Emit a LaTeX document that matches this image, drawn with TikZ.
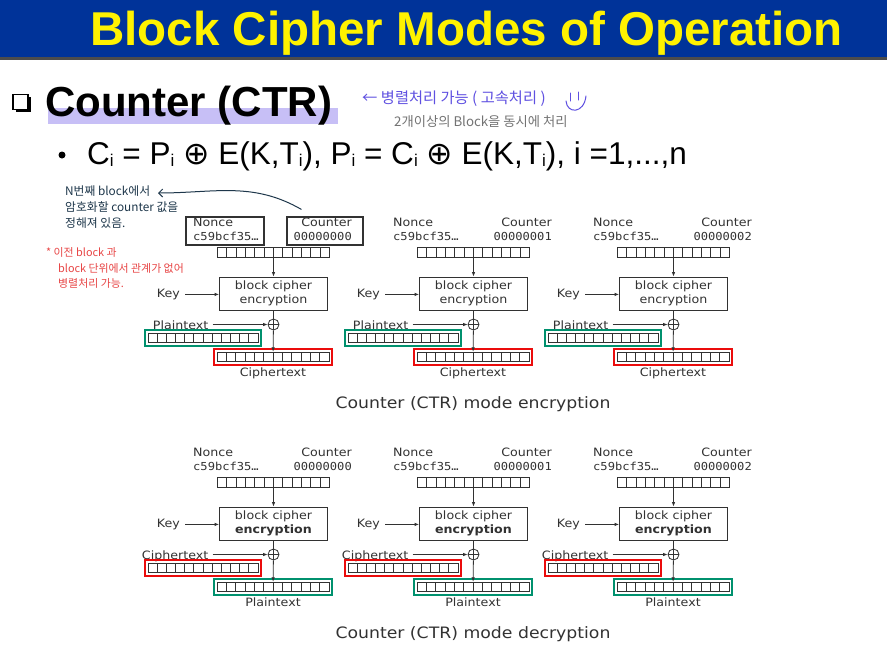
\documentclass[tikz,border=0pt]{standalone}
\usepackage{fontspec}
\setmainfont{Liberation Sans}
\newfontfamily\dvsans[FakeStretch=1.1]{DejaVu Sans}
\newfontfamily\dvmono[FakeStretch=1.1]{DejaVu Sans Mono}
\newfontfamily\dvplain{DejaVu Sans}
\newfontfamily\krfont{Noto Sans CJK KR}
\usetikzlibrary{arrows.meta,calc,fit,shadows}

\definecolor{barblue}{RGB}{0,51,153}
\definecolor{ink}{RGB}{50,50,50}
\definecolor{hlred}{RGB}{235,12,12}
\definecolor{hlgreen}{RGB}{0,145,110}
\definecolor{penpurple}{RGB}{95,80,225}
\definecolor{pengray}{RGB}{115,115,115}
\definecolor{pennavy}{RGB}{30,55,75}
\definecolor{penred}{RGB}{232,70,70}
\definecolor{marker}{RGB}{190,180,245}

\tikzset{
  lbl/.style={font=\dvsans\fontsize{11.5}{14}\selectfont, text=ink, inner sep=0pt},
  reg/.style={draw=ink, line width=0.8pt, minimum width=112pt, minimum height=9.5pt,
    inner sep=0pt,
    path picture={\foreach \k in {1,...,11}{
      \draw[ink, line width=0.7pt]
        ($(path picture bounding box.south west)!\k/12!(path picture bounding box.south east)$) --
        ($(path picture bounding box.north west)!\k/12!(path picture bounding box.north east)$);}}},
  cipher/.style={draw=ink, line width=0.8pt, minimum width=108pt, minimum height=33pt,
    align=center, inner sep=0pt, font=\dvsans\fontsize{11.5}{14}\selectfont, text=ink},
  xor/.style={circle, draw=ink, line width=0.8pt, minimum size=11pt, inner sep=0pt,
    path picture={\draw[ink, line width=0.8pt]
      (path picture bounding box.north) -- (path picture bounding box.south)
      (path picture bounding box.west) -- (path picture bounding box.east);}},
  flow/.style={draw=ink, line width=0.8pt, -{Latex[length=4.5pt,width=3.5pt]}},
  wire/.style={draw=ink, line width=0.8pt},
  hl/.style={rectangle, line width=2.2pt, inner xsep=2.3pt, inner ysep=2.6pt},
  framebox/.style={rectangle, draw=ink, line width=1.1pt, inner sep=0pt},
  caption/.style={font=\dvsans\fontsize{15.7}{18}\selectfont, text=ink, inner sep=0pt},
  pen/.style={font=\krfont\fontsize{11.8}{16}\selectfont, inner sep=0pt, align=left},
}

\begin{document}
\begin{tikzpicture}[x=1pt,y=-1pt]
\useasboundingbox (0,0) rectangle (887,656);
\fill[white] (0,0) rectangle (887,656);

% title bar
\fill[barblue] (0,0) rectangle (887,57);
\fill[black!70] (0,57) rectangle (887,60);
\node[anchor=base, inner sep=0pt, text=yellow,
      font=\bfseries\fontsize{47.5}{50}\selectfont] (title) at (466.5,45)
  {Block Cipher Modes of Operation};

% heading with marker stroke
\fill[marker, opacity=0.85] (48,108) rectangle (338,124);
\node[draw=black, line width=1.3pt, fill=white, minimum size=15pt, inner sep=0pt,
      drop shadow={shadow xshift=2.5pt, shadow yshift=-2.5pt, opacity=1, fill=black}]
  (chk) at (20.5,102) {};
\node[anchor=base west, inner sep=0pt, font=\bfseries\fontsize{42}{44}\selectfont]
  (head) at (45,116) {Counter (CTR)};

% formula line
\node[circle, fill=black, minimum size=7pt, inner sep=0pt] (dot) at (62,155) {};
\newcommand\xo{{\dvplain ⊕}}
\newcommand\ix{\raisebox{-2.5pt}{\fontsize{17}{17}\selectfont i}}
\node[anchor=base west, inner sep=0pt, font=\fontsize{31.5}{34}\selectfont] (formula) at (87,164)
  {C\ix{} = P\ix{} \xo{} E(K,T\ix), P\ix{} = C\ix{} \xo{} E(K,T\ix), i =1,...,n};

% handwritten notes
\node[pen, anchor=west, text=penpurple, font=\krfont\fontsize{15.3}{16}\selectfont]
  (parnote) at (362,99) {← 병렬처리 가능 ( 고속처리 )};
\draw[penpurple, line width=1pt, line cap=round] (570,93) -- (570,101);
\draw[penpurple, line width=1pt, line cap=round] (578,92) -- (578,100);
\draw[penpurple, line width=1pt, line cap=round] (566,101) .. controls (567,114) and (584,114) .. (586,96);
\node[pen, anchor=west, text=pengray, font=\krfont\fontsize{13.3}{15}\selectfont]
  (multinote) at (394,122) {2개이상의 Block을 동시에 처리};

\node[pen, anchor=west, text=pennavy] (ctrnote) at (65,207.5)
  {N번째 block에서\\암호화할 counter 값을\\정해져 있음.};
\node[pen, anchor=west, text=penred, font=\krfont\fontsize{10.9}{15.5}\selectfont] (indnote) at (58,268)
  {\hspace*{-12pt}* 이전 block 과\\block 단위에서 관계가 없어\\병렬처리 가능.};

% encryption row
\foreach \c/\cv in {0/00000000,1/00000001,2/00000002}{
\begin{scope}[shift={(200*\c,0)}]
  \node[lbl, align=left, anchor=west] (en\c) at (193,229.5) {Nonce\\{\dvmono\fontsize{11}{14}\selectfont c59bcf35…}};
  \node[lbl, align=right, anchor=east] (ec\c) at (352,229.5) {Counter\\{\dvmono\fontsize{11}{14}\selectfont \cv}};
  \node[reg] (et\c) at (273.5,252.5) {};
  \node[cipher] (eb\c) at (273.5,293.5) {block cipher\\encryption};
  \node[lbl, anchor=base east] (ek\c) at (180,297.4) {Key};
  \node[xor] (ex\c) at (273.5,324.5) {};
  \node[lbl, anchor=base east] (ei\c) at (208.5,329) {Plaintext};
  \node[reg, minimum width=110pt] (ep\c) at (203,338) {};
  \node[reg] (eo\c) at (273,357) {};
  \node[lbl, anchor=base] (el\c) at (273,376.5) {Ciphertext};
  \node[hl, draw=hlgreen, fit=(ep\c)] (eg\c) {};
  \node[hl, draw=hlred, fit=(eo\c)] (er\c) {};
  \draw[flow] (et\c) -- (eb\c);
  \draw[flow, shorten <=5pt] (ek\c.east) -- (eb\c.west |- ek\c.east);
  \draw[wire] (eb\c) -- (ex\c);
  \draw[flow, shorten <=4pt] (ei\c.east |- ex\c.west) -- (ex\c.west);
  \draw[flow] (ex\c) -- (eo\c);
\end{scope}}
\node[framebox, fit={(186,217) (264,245)}] (noncebox) {};
\node[framebox, fit={(287,217) (363,245)}] (ctrbox) {};
\node[caption, anchor=base] (enccap) at (473,408) {Counter (CTR) mode encryption};

% note arrow from the counter box
\coordinate (notetail) at ($(ctrbox.north west)+(15,-7)$);
\coordinate (notehead) at (158,193);
\draw[pennavy, line width=1pt, -{Straight Barb[length=4pt,width=8pt]}]
  (notetail) to[out=150,in=0] (notehead);

% decryption row
\foreach \c/\cv in {0/00000000,1/00000001,2/00000002}{
\begin{scope}[shift={(200*\c,230)}]
  \node[lbl, align=left, anchor=west] (dn\c) at (193,229.5) {Nonce\\{\dvmono\fontsize{11}{14}\selectfont c59bcf35…}};
  \node[lbl, align=right, anchor=east] (dc\c) at (352,229.5) {Counter\\{\dvmono\fontsize{11}{14}\selectfont \cv}};
  \node[reg] (dt\c) at (273.5,252.5) {};
  \node[cipher] (db\c) at (273.5,293.5) {block cipher\\\textbf{encryption}};
  \node[lbl, anchor=base east] (dk\c) at (180,297.4) {Key};
  \node[xor] (dx\c) at (273.5,324.5) {};
  \node[lbl, anchor=base east] (di\c) at (208.5,329) {Ciphertext};
  \node[reg, minimum width=110pt] (dp\c) at (203,338) {};
  \node[reg] (do\c) at (273,357) {};
  \node[lbl, anchor=base] (dl\c) at (273,376.5) {Plaintext};
  \node[hl, draw=hlred, fit=(dp\c)] (dr\c) {};
  \node[hl, draw=hlgreen, fit=(do\c)] (dg\c) {};
  \draw[flow] (dt\c) -- (db\c);
  \draw[flow, shorten <=5pt] (dk\c.east) -- (db\c.west |- dk\c.east);
  \draw[wire] (db\c) -- (dx\c);
  \draw[flow, shorten <=4pt] (di\c.east |- dx\c.west) -- (dx\c.west);
  \draw[flow] (dx\c) -- (do\c);
\end{scope}}
\node[caption, anchor=base] (deccap) at (473,638) {Counter (CTR) mode decryption};
\end{tikzpicture}
\end{document}
